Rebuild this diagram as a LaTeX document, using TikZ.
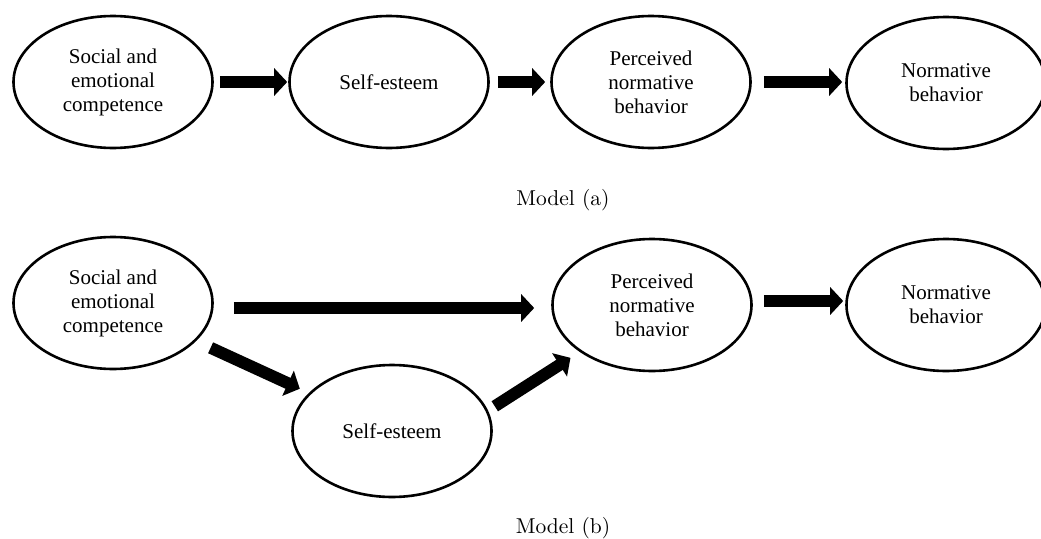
\documentclass[tikz,border=0pt]{standalone}
\usepackage{fontspec}
\newfontfamily\labfont{Liberation Serif}
\newfontfamily\capfont{lmroman10-regular.otf}
\usetikzlibrary{shapes.geometric,arrows.meta}
\begin{document}
\begin{tikzpicture}[x=1pt,y=-1pt,
  ell/.style={draw, line width=2.6pt, ellipse, minimum width=199pt, minimum height=132pt,
    inner sep=0pt, align=center, font=\labfont\fontsize{21}{24}\selectfont},
  blk/.style={line width=12pt, -{Triangle[width=27pt,length=13pt]}},
  modelcap/.style={font=\capfont\fontsize{21.5}{25}\selectfont}]
\useasboundingbox (0,0) rectangle (1041,538);
% Model (a)
\node[ell] (a1) at (113,82) {Social and\\emotional\\competence};
\node[ell] (a2) at (389,82) {Self-esteem};
\node[ell] (a3) at (651,82) {Perceived\\normative\\behavior};
\node[ell] (a4) at (946,83) {Normative\\behavior};
\draw[blk, shorten <=6pt, shorten >=1pt] (a1.east) -- (a2.west);
\draw[blk, shorten <=8pt, shorten >=5pt] (a2.east) -- (a3.west);
\draw[blk, shorten <=12pt, shorten >=3pt] (a3.east) -- (a3.east -| a4.west);
\node[modelcap] (ma) at (563,200) {Model (a)};
% Model (b)
\node[ell] (b1) at (113,303) {Social and\\emotional\\competence};
\node[ell] (se) at (392,431) {Self-esteem};
\node[ell] (b3) at (652,305) {Perceived\\normative\\behavior};
\node[ell] (b4) at (946,305) {Normative\\behavior};
\draw[blk, shorten <=20pt, shorten >=17pt] ([yshift=-5pt]b1.east) -- ([yshift=-3pt]b3.west);
\draw[blk, shorten <=16pt, shorten >=10pt] (b1) -- (se);
\draw[blk, shorten <=8pt, shorten >=11pt] (se.12) -- (b3.213);
\draw[blk, shorten <=11pt, shorten >=2pt] ([yshift=4pt]b3.east) -- ([yshift=4pt]b4.west);
\node[modelcap] (mb) at (563,528) {Model (b)};
\end{tikzpicture}
\end{document}
